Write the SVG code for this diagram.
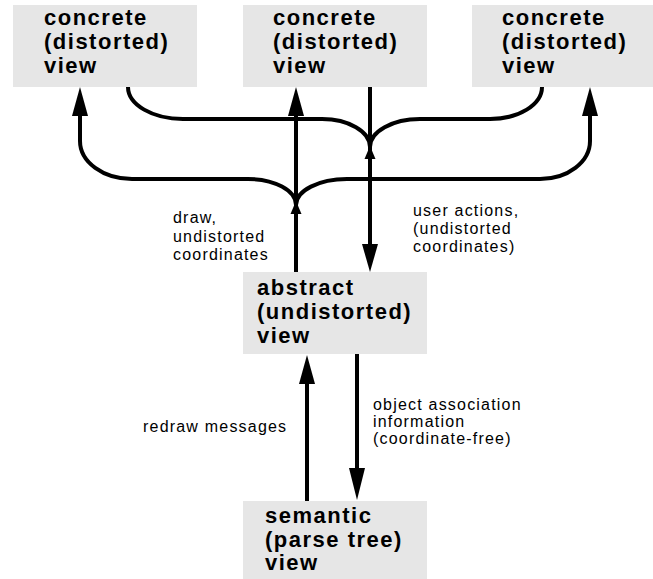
<svg xmlns="http://www.w3.org/2000/svg" width="653" height="579" viewBox="0 0 653 579">
<style>
.box{fill:#e6e6e6;stroke:none}
.t{font-family:"Liberation Sans",Arial,sans-serif;font-weight:bold;font-size:22px;letter-spacing:1.5px;fill:#000}
.l{font-family:"Liberation Sans",Arial,sans-serif;font-size:16px;letter-spacing:1.2px;fill:#000}
.c{fill:none;stroke:#000;stroke-width:4}
.h{fill:#000;stroke:none}
</style>
<rect width="653" height="579" fill="#fff"/>
<g id="concrete1">
<rect class="box" x="13" y="5" width="184" height="82"/>
<text class="t"><tspan x="44" y="25">concrete</tspan><tspan x="44" y="49">(distorted)</tspan><tspan x="44" y="73">view</tspan></text>
</g>
<g id="concrete2">
<rect class="box" x="243" y="5" width="184" height="82"/>
<text class="t"><tspan x="273" y="25">concrete</tspan><tspan x="273" y="49">(distorted)</tspan><tspan x="273" y="73">view</tspan></text>
</g>
<g id="concrete3">
<rect class="box" x="472" y="5" width="181" height="82"/>
<text class="t"><tspan x="502" y="25">concrete</tspan><tspan x="502" y="49">(distorted)</tspan><tspan x="502" y="73">view</tspan></text>
</g>
<g id="abstract">
<rect class="box" x="243" y="272" width="184" height="82"/>
<text class="t"><tspan x="257" y="295">abstract</tspan><tspan x="257" y="319">(undistorted)</tspan><tspan x="257" y="343">view</tspan></text>
</g>
<g id="semantic">
<rect class="box" x="243" y="501" width="184" height="78"/>
<text class="t"><tspan x="265" y="523">semantic</tspan><tspan x="265" y="547">(parse tree)</tspan><tspan x="265" y="570">view</tspan></text>
</g>
<g id="connectors">
<path class="c" d="M296 272 V112"/>
<polygon class="h" points="296,87 288,116 304,116"/>
<path class="c" d="M296 205 A48 26 0 0 0 248 179 H132 A52 38 0 0 1 80 141 V112"/>
<polygon class="h" points="80,87 72,116 88,116"/>
<path class="c" d="M296 205 A51 26 0 0 1 347 179 H540 A50 38 0 0 0 590 141 V112"/>
<polygon class="h" points="590,87 582,116 598,116"/>
<polygon class="h" points="296,201 290.5,214 301.5,214"/>
<path class="c" d="M370 87 V247"/>
<polygon class="h" points="370,272 362,244 378,244"/>
<path class="c" d="M128 87 A55 32 0 0 0 183 119 H322 A48 28 0 0 1 370 147"/>
<path class="c" d="M542 87 A52 32 0 0 1 490 119 H420 A50 28 0 0 0 370 147"/>
<polygon class="h" points="370,146 364.5,159 375.5,159"/>
<path class="c" d="M307 501 V380"/>
<polygon class="h" points="307,355 299,384 315,384"/>
<path class="c" d="M357 354 V470"/>
<polygon class="h" points="357,500 349,468 365,468"/>
</g>
<g id="labels">
<text class="l"><tspan x="173" y="223">draw,</tspan><tspan x="173" y="242">undistorted</tspan><tspan x="173" y="260">coordinates</tspan></text>
<text class="l"><tspan x="413" y="216">user actions,</tspan><tspan x="413" y="234">(undistorted</tspan><tspan x="413" y="252">coordinates)</tspan></text>
<text class="l" x="143" y="432">redraw messages</text>
<text class="l"><tspan x="373" y="410">object association</tspan><tspan x="373" y="427">information</tspan><tspan x="373" y="444">(coordinate-free)</tspan></text>
</g>
</svg>
